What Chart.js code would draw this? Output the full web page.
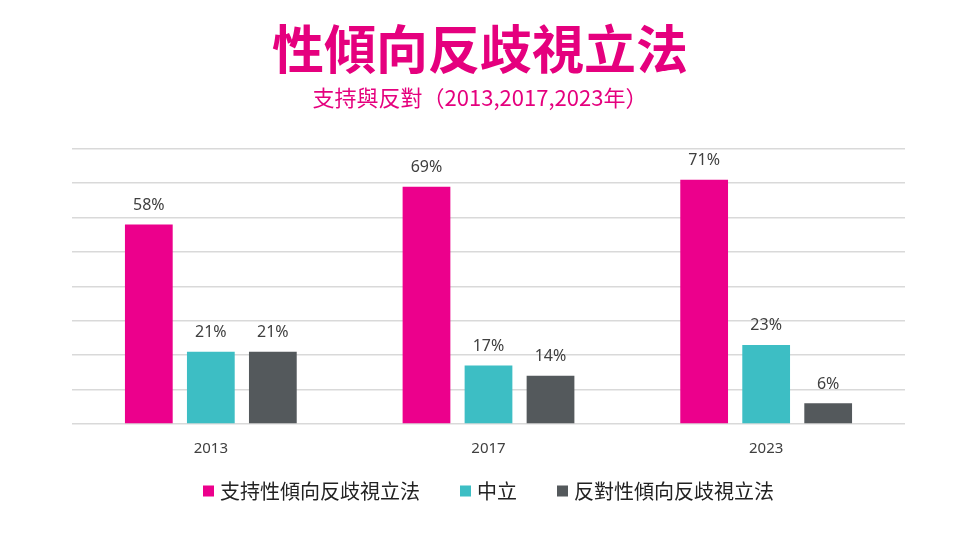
<!DOCTYPE html>
<html>
<head>
<meta charset="utf-8">
<script src="https://cdn.jsdelivr.net/npm/chart.js@4"></script>
<style>
  html, body { margin: 0; padding: 0; background: #fff; }
  #wrap { width: 960px; height: 535px; }
</style>
</head>
<body>
<div id="wrap"><canvas id="myChart" width="960" height="535"></canvas></div>
<script>
// Data
const years = ['2013', '2017', '2023'];
const support = [58, 69, 71];
const neutral = [21, 17, 23];
const oppose = [21, 14, 6];
const seriesNames = ['支持性傾向反歧視立法', '中立', '反對性傾向反歧視立法'];

const FONT = "'Noto Sans', 'Noto Sans CJK TC', sans-serif";
const CJK = "'Noto Sans CJK TC', 'Noto Sans', sans-serif";

// Draw the value above each bar
const valueLabels = {
  id: 'valueLabels',
  afterDatasetsDraw(chart) {
    const ctx = chart.ctx;
    ctx.save();
    ctx.font = '16px ' + FONT;
    ctx.fillStyle = '#404040';
    ctx.textAlign = 'center';
    ctx.textBaseline = 'bottom';
    chart.data.datasets.forEach((ds, i) => {
      chart.getDatasetMeta(i).data.forEach((bar, j) => {
        ctx.fillText(ds.data[j] + '%', bar.x, bar.y - 11);
      });
    });
    ctx.restore();
  }
};

// Legend under the chart, wider item spacing than the built-in one allows
const bottomLegend = {
  id: 'bottomLegend',
  afterDraw(chart) {
    const ctx = chart.ctx;
    const box = 11, gapBox = 6, gapItem = 40;
    ctx.save();
    ctx.font = '20px ' + CJK;
    const items = chart.data.datasets.map(ds => ({
      text: ds.label, color: ds.backgroundColor, w: ctx.measureText(ds.label).width
    }));
    let total = items.reduce((s, it) => s + box + gapBox + it.w, 0) + gapItem * (items.length - 1);
    const area = chart.chartArea;
    let x = (area.left + area.right) / 2 - total / 2;
    const y = area.bottom + 67;
    ctx.textBaseline = 'middle';
    items.forEach(it => {
      ctx.fillStyle = it.color;
      ctx.fillRect(x, y - box / 2, box, box);
      x += box + gapBox;
      ctx.fillStyle = '#222';
      ctx.fillText(it.text, x, y);
      x += it.w + gapItem;
    });
    ctx.restore();
  }
};

const data = {
  labels: years,
  datasets: [
    { label: seriesNames[0], data: support, backgroundColor: '#EC008C' },
    { label: seriesNames[1], data: neutral, backgroundColor: '#3DBEC4' },
    { label: seriesNames[2], data: oppose, backgroundColor: '#54595C' }
  ]
};

const config = {
  type: 'bar',
  data: data,
  options: {
    responsive: false,
    animation: false,
    categoryPercentage: 0.67,
    barPercentage: 0.77,
    layout: { padding: { left: 55, right: 55, top: 0, bottom: 69 } },
    plugins: {
      title: {
        display: true,
        text: '性傾向反歧視立法',
        color: '#E5007E',
        font: { family: CJK, size: 52, weight: 'bold' },
        padding: { top: 18, bottom: 0 }
      },
      subtitle: {
        display: true,
        text: '支持與反對（2013,2017,2023年）',
        color: '#E5007E',
        font: { family: CJK, size: 22 },
        padding: { top: 4, bottom: 38 }
      },
      legend: { display: false },
      tooltip: { enabled: false }
    },
    scales: {
      x: {
        grid: { display: false },
        border: { display: false },
        ticks: { color: '#404040', font: { family: FONT, size: 15 }, padding: 8 }
      },
      y: {
        min: 0,
        max: 80,
        ticks: { display: false, stepSize: 10 },
        grid: { color: '#d9d9d9', lineWidth: 1.5, drawTicks: false },
        border: { display: false },
        afterFit(axis) { axis.width = 17; }
      }
    }
  },
  plugins: [valueLabels, bottomLegend]
};

const ctx = document.getElementById('myChart').getContext('2d');
const myChart = new Chart(ctx, config);
</script>
</body>
</html>
